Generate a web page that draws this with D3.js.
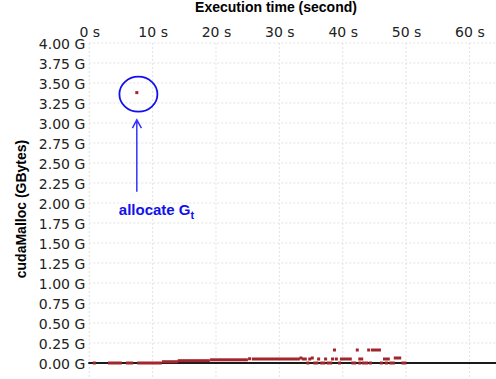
<!DOCTYPE html>
<html>
<head>
<meta charset="utf-8">
<script src="https://cdn.jsdelivr.net/npm/d3@7"></script>
<style>
  body { margin: 0; background: #fff; }
  svg { display: block; }
</style>
</head>
<body>
<div class="chart"></div>
<script>
// runs of cudaMalloc samples: start time (s), end time (s), size (GB)
const runStart = [0.8, 3.2, 6.0, 7.8, 11.7, 14.2, 19.3, 25.3, 25.9, 33.4, 33.8, 34.5, 34.8, 35.2, 35.6, 36.2, 36.7, 37.3, 37.7, 38.4, 38.7, 39.0, 39.5, 39.8, 41.6, 42.3, 42.7, 42.7, 43.3, 44.1, 44.4, 44.7, 46.1, 46.6, 46.9, 47.6, 48.3, 49.5];
const runEnd   = [0.8, 4.9, 6.7, 11.2, 13.8, 18.8, 24.8, 25.3, 33.0, 33.4, 34.1, 34.5, 34.8, 35.2, 35.9, 36.2, 37.0, 37.3, 38.1, 38.4, 38.7, 39.0, 39.5, 41.2, 41.9, 42.3, 43.0, 42.7, 43.8, 44.1, 44.4, 45.8, 46.1, 47.2, 46.9, 48.0, 49.0, 49.8];
const runValue = [0, 0, 0, 0, 0.016, 0.029, 0.04, 0.053, 0.05, 0.0625, 0.05, 0, 0.05, 0.0625, 0, 0.05, 0, 0.05, 0, 0.05, 0.1625, 0.05, 0, 0.05, 0, 0.1625, 0.05, 0, 0, 0.1625, 0, 0.1625, 0, 0.05, 0, 0, 0.0625, 0];

// the single large allocation
const outlierTime = [7.5];
const outlierValue = [3.38];

const xTicks = [0, 10, 20, 30, 40, 50, 60];
const yTicks = [0, 0.25, 0.5, 0.75, 1, 1.25, 1.5, 1.75, 2, 2.25, 2.5, 2.75, 3, 3.25, 3.5, 3.75, 4];

const width = 496;
const height = 379;
const plotLeft = 89.3, plotRight = 496, plotTop = 43, plotBottom = 379;

const x = d3.scaleLinear().domain([0, 64.2]).range([plotLeft, plotRight]);
const y = d3.scaleLinear().domain([-0.2, 4]).range([plotBottom, plotTop]);

const svg = d3.select('.chart')
	.append('svg')
	.attr('width', width)
	.attr('height', height)

// grid
svg.append('g').selectAll('line')
	.data(xTicks)
	.enter()
	.append('line')
	.attr('x1', d => x(d)).attr('x2', d => x(d))
	.attr('y1', plotTop).attr('y2', plotBottom)
	.attr('stroke', '#e2e2e2')
	.attr('stroke-dasharray', '2,2')

svg.append('g').selectAll('line')
	.data(yTicks)
	.enter()
	.append('line')
	.attr('x1', plotLeft).attr('x2', plotRight)
	.attr('y1', d => y(d)).attr('y2', d => y(d))
	.attr('stroke', '#e2e2e2')
	.attr('stroke-dasharray', '2,2')

// axes (labels only)
const xAxis = svg.append('g')
	.attr('transform', `translate(0,${plotTop - 3})`)
	.call(d3.axisTop(x).tickValues(xTicks).tickSize(0).tickFormat(d => d + ' s'))
xAxis.select('.domain').remove()
xAxis.selectAll('text')
	.attr('font-family', 'DejaVu Sans')
	.attr('font-size', 14)
	.attr('fill', '#222')

const yAxis = svg.append('g')
	.attr('transform', `translate(${plotLeft - 1},0)`)
	.call(d3.axisLeft(y).tickValues(yTicks).tickSize(0).tickFormat(d => d3.format('.2f')(d) + ' G'))
yAxis.select('.domain').remove()
yAxis.selectAll('text')
	.attr('font-family', 'DejaVu Sans')
	.attr('font-size', 14)
	.attr('fill', '#222')
	.attr('dy', '0.36em')

// zero baseline
svg.append('line')
	.attr('x1', plotLeft - 1).attr('x2', plotRight)
	.attr('y1', y(0)).attr('y2', y(0))
	.attr('stroke', '#1a1a1a')
	.attr('stroke-width', 1.8)

// titles
svg.append('text')
	.attr('x', 276)
	.attr('y', 11.5)
	.attr('text-anchor', 'middle')
	.attr('font-family', 'Liberation Sans, Arial, sans-serif')
	.attr('font-weight', 'bold')
	.attr('font-size', 14)
	.text('Execution time (second)')

svg.append('text')
	.attr('transform', 'translate(25.5,209) rotate(-90)')
	.attr('text-anchor', 'middle')
	.attr('font-family', 'Liberation Sans, Arial, sans-serif')
	.attr('font-weight', 'bold')
	.attr('font-size', 14)
	.text('cudaMalloc (GBytes)')

// data marks
const ms = 3;
svg.append('g').selectAll('rect')
	.data(runStart.map((d, i) => ({t0: d, t1: runEnd[i], v: runValue[i]})))
	.enter()
	.append('rect')
	.attr('x', d => x(d.t0) - ms / 2)
	.attr('y', d => y(d.v) - ms / 2)
	.attr('width', d => x(d.t1) - x(d.t0) + ms)
	.attr('height', ms)
	.attr('fill', '#a3262c')

svg.append('g').selectAll('rect')
	.data(outlierTime)
	.enter()
	.append('rect')
	.attr('x', d => x(d) - ms / 2)
	.attr('y', (d, i) => y(outlierValue[i]) - ms / 2)
	.attr('width', ms)
	.attr('height', ms)
	.attr('fill', '#a3262c')

// annotation
const ann = svg.append('g')
ann.append('ellipse')
	.attr('cx', x(outlierTime[0]) + 1.6)
	.attr('cy', y(outlierValue[0]) + 1.6)
	.attr('rx', 19)
	.attr('ry', 17.5)
	.attr('fill', 'none')
	.attr('stroke', '#1010ee')
	.attr('stroke-width', 1.8)

const ax = x(outlierTime[0]);
const tipY = y(3.04), baseY = y(2.14);
ann.append('path')
	.attr('d', `M${ax},${baseY}L${ax},${tipY}M${ax - 4.4},${tipY + 8.3}L${ax},${tipY}L${ax + 4.6},${tipY + 8.3}`)
	.attr('fill', 'none')
	.attr('stroke', '#3333ff')
	.attr('stroke-width', 1.5)

const lbl = ann.append('text')
	.attr('x', ax - 18)
	.attr('y', 215)
	.attr('font-family', 'Liberation Sans, Arial, sans-serif')
	.attr('font-weight', 'bold')
	.attr('font-size', 15)
	.attr('fill', '#1010ee')
lbl.append('tspan').text('allocate G')
lbl.append('tspan')
	.attr('dy', 4)
	.attr('font-size', 11)
	.text('t')
</script>
</body>
</html>
